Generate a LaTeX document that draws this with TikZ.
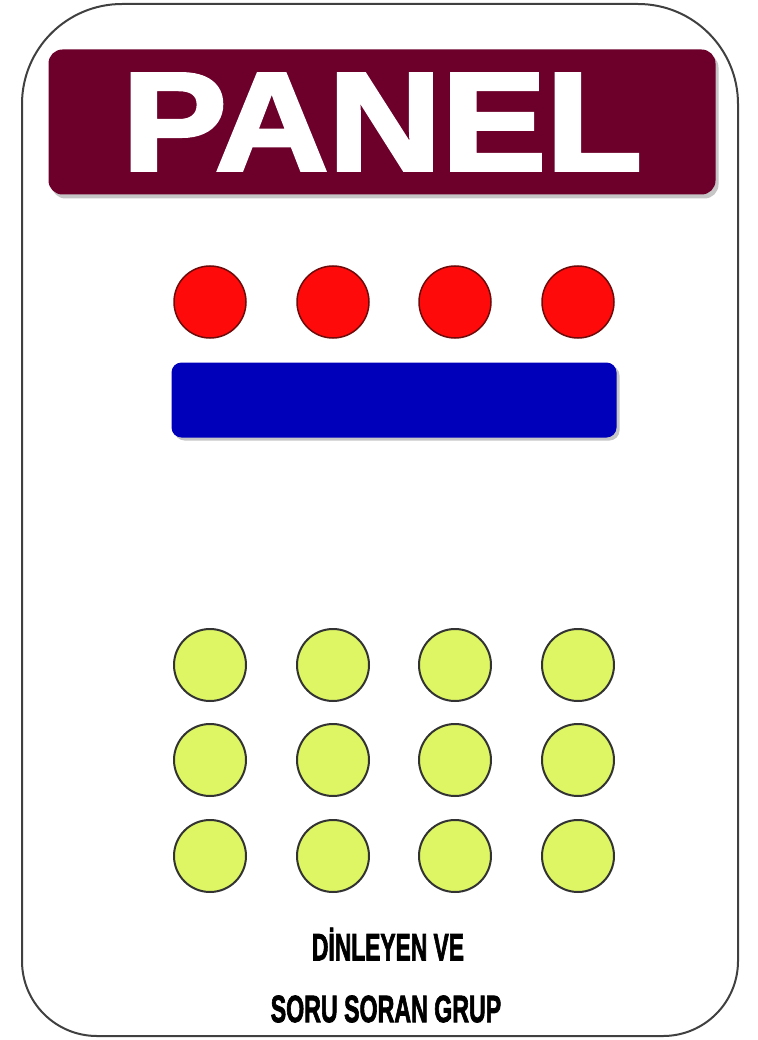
\documentclass[tikz,border=0pt]{standalone}
\usepackage{fontspec}
\setmainfont{Liberation Sans}
\newfontfamily\heavyfont[BoldFeatures={FakeBold=2.5}]{Liberation Sans}
\usetikzlibrary{positioning, shadows}
\definecolor{panelmaroon}{RGB}{108, 0, 42}
\definecolor{panelred}{RGB}{255, 10, 10}
\definecolor{paneldarkred}{RGB}{110, 10, 10}
\definecolor{panelblue}{RGB}{0, 0, 186}
\definecolor{panelgreen}{RGB}{222, 246, 100}

\begin{document}
\begin{tikzpicture}[x=1pt, y=-1pt,
    speaker/.style={circle, draw=paneldarkred, line width=1.5pt, fill=panelred, minimum size=72pt, inner sep=0pt},
    listener/.style={circle, draw=black!80, line width=2pt, fill=panelgreen, minimum size=72pt, inner sep=0pt},
    grouplabel/.style={font=\fontsize{38}{38}\heavyfont\bfseries, inner sep=0pt}]
    \useasboundingbox (0,0) rectangle (757,1040);
    \draw[line width=2pt, black!75] (22,600) [rounded corners=100pt] -- (22,4) -- (738,4) -- (738,600) [rounded corners=75pt] -- (738,1036) -- (22,1036) -- cycle;

    \node[fill=panelmaroon, rounded corners=14pt, minimum width=667pt, minimum height=145pt, drop shadow={shadow xshift=3pt, shadow yshift=-4pt, opacity=0.45}, text=white, font=\fontsize{140}{140}\heavyfont\bfseries] (title) at (382,122) {\scalebox{1.12}[1]{PANEL}};

    \node[speaker] (sp1) at (210,302) {};
    \node[speaker] (sp2) at (333,302) {};
    \node[speaker] (sp3) at (455,302) {};
    \node[speaker] (sp4) at (578,302) {};
    \node[fill=panelblue, rounded corners=10pt, minimum width=445pt, minimum height=75pt, drop shadow={shadow xshift=3pt, shadow yshift=-3pt, opacity=0.45}] (desk) at (394,400) {};

    \foreach \row/\y in {1/665, 2/760, 3/856}
      \foreach \col/\x in {1/210, 2/333, 3/455, 4/578}
        \node[listener] (ls\row\col) at (\x,\y) {};

    \node[grouplabel] (lab1) at (388,944) {\scalebox{0.6}[1]{DİNLEYEN VE}};
    \node[grouplabel] (lab2) at (386,1009) {\scalebox{0.61}[1]{SORU SORAN GRUP}};
\end{tikzpicture}
\end{document}
